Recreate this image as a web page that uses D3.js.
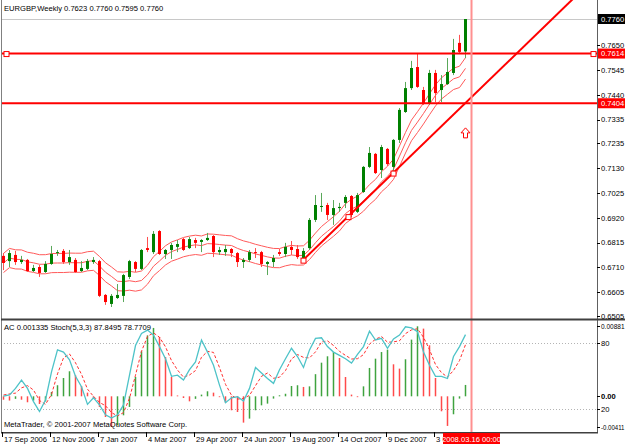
<!DOCTYPE html>
<html><head><meta charset="utf-8">
<script src="https://cdn.jsdelivr.net/npm/d3@7"></script>
<style>
body{margin:0;background:#fff}
svg{display:block}
text{font-family:"Liberation Sans",Arial,sans-serif;font-size:7.6px;fill:#000}
</style>
</head><body>
<svg id="c" width="625" height="445"></svg>
<script>
// ---------- data ----------
const titleText = "EURGBP,Weekly  0.7623 0.7760 0.7595 0.7760";
const subTitle = "AC 0.001335  Stoch(5,3,3) 87.8495 78.7709";
const copyright = "MetaTrader, \u00A9 2001-2007 MetaQuotes Software Corp.";
const startDate = new Date(2006, 8, 17); // first weekly bar
const opens = [0.6759,0.6737,0.6763,0.6733,0.6742,0.6695,0.6712,0.6691,0.6725,0.6771,
0.6780,0.6733,0.6742,0.6695,0.6704,0.6733,0.6737,0.6594,0.6556,0.6581,
0.6590,0.6670,0.6733,0.6704,0.6792,0.6775,0.6864,0.6767,0.6784,0.6797,
0.6830,0.6792,0.6826,0.6818,0.6826,0.6843,0.6775,0.6775,0.6788,0.6771,
0.6733,0.6742,0.6775,0.6775,0.6725,0.6733,0.6775,0.6767,0.6797,0.6788,
0.6750,0.6792,0.6911,0.6966,0.6974,0.6932,0.6961,0.6983,0.7012,0.6945,
0.7029,0.7135,0.7190,0.7122,0.7211,0.7135,0.7249,0.7367,0.7468,0.7557,
0.7460,0.7405,0.7532,0.7460,0.7485,0.7532,0.7659,0.7623];
const highs = [0.6771,0.6784,0.6780,0.6759,0.6746,0.6721,0.6721,0.6737,0.6801,0.6784,
0.6788,0.6784,0.6750,0.6737,0.6746,0.6754,0.6742,0.6598,0.6598,0.6640,
0.6683,0.6742,0.6737,0.6788,0.6839,0.6864,0.6868,0.6788,0.6814,0.6826,
0.6835,0.6839,0.6835,0.6830,0.6856,0.6847,0.6797,0.6805,0.6792,0.6775,
0.6750,0.6784,0.6792,0.6780,0.6737,0.6763,0.6788,0.6814,0.6822,0.6805,
0.6792,0.6919,0.7016,0.7025,0.6983,0.6995,0.6983,0.7016,0.7016,0.7025,
0.7139,0.7219,0.7194,0.7228,0.7215,0.7253,0.7384,0.7494,0.7583,0.7612,
0.7473,0.7545,0.7545,0.7523,0.7595,0.7676,0.7693,0.7760];
const lows = [0.6699,0.6712,0.6721,0.6725,0.6691,0.6691,0.6670,0.6687,0.6721,0.6759,
0.6725,0.6721,0.6687,0.6691,0.6699,0.6725,0.6585,0.6552,0.6543,0.6577,
0.6564,0.6661,0.6691,0.6699,0.6775,0.6767,0.6763,0.6746,0.6746,0.6775,
0.6780,0.6788,0.6792,0.6775,0.6822,0.6754,0.6763,0.6759,0.6754,0.6712,
0.6708,0.6733,0.6750,0.6712,0.6678,0.6712,0.6759,0.6754,0.6763,0.6746,
0.6742,0.6784,0.6902,0.6945,0.6911,0.6890,0.6945,0.6961,0.6923,0.6940,
0.7025,0.7130,0.7105,0.7088,0.7139,0.7109,0.7236,0.7363,0.7460,0.7469,
0.7397,0.7397,0.7409,0.7409,0.7481,0.7523,0.7616,0.7595];
const closes = [0.6729,0.6771,0.6733,0.6742,0.6695,0.6708,0.6687,0.6725,0.6767,0.6775,
0.6733,0.6754,0.6691,0.6708,0.6737,0.6742,0.6590,0.6564,0.6590,0.6594,
0.6678,0.6737,0.6704,0.6784,0.6784,0.6852,0.6767,0.6784,0.6805,0.6809,
0.6784,0.6830,0.6814,0.6826,0.6835,0.6775,0.6784,0.6788,0.6771,0.6733,
0.6742,0.6775,0.6771,0.6725,0.6733,0.6750,0.6767,0.6797,0.6784,0.6754,
0.6780,0.6911,0.6974,0.6970,0.6932,0.6961,0.6966,0.7008,0.6932,0.7016,
0.7135,0.7194,0.7109,0.7219,0.7147,0.7249,0.7376,0.7468,0.7553,0.7473,
0.7401,0.7532,0.7447,0.7485,0.7536,0.7629,0.7621,0.7760];
const acValues = [-0.0004,-0.0005,-0.0003,-0.0004,-0.0007,-0.0005,-0.0009,-0.0006,0.0005,0.0013,
0.00215,0.00294,0.00247,0.00121,0.00043,-0.00027,-0.00125,-0.00243,-0.0036,-0.0034,
-0.00223,-0.00125,0.00227,0.00529,0.00716,0.00803,0.00697,0.00462,0.00227,0.0001,
-0.0002,-0.00059,-0.0003,0.0002,0.00059,0.00043,-0.0001,-0.00074,-0.00164,-0.00184,
-0.00309,-0.00262,-0.00164,-0.00106,-0.00086,-0.00027,0.00012,0.0003,0.00121,0.0013,
0.0011,0.00117,0.0026,0.00395,0.0047,0.0052,0.0045,0.00227,0.0002,-0.0001,
0.00117,0.00333,0.00442,0.0052,0.00548,0.00376,0.00325,0.00435,0.00666,0.00822,
0.00795,0.00599,0.00215,-0.00176,-0.00348,-0.00211,-0.00027,0.001335];
const stochMain = [32,33,39,46.6,39,27,18,28.5,54,74,
72,65,50,40.5,24.5,30.5,24,15,12,15,
24,51,78,89,92,87.5,77,66,50,51,
46.6,56,63,83,72,60,42,26,30.5,31.5,
27.5,39,58,53,48,43.6,56,66,75.5,68,
58,74,84.5,85,77,72,69,66,62,70,
77,91,83,84.5,75.5,84,87.5,95,94,90.5,
72,60,50,50,48,68,77,87.85];
const stochSignal = [33,34,34.7,39.5,41.5,37.5,28,24.5,33.5,52.2,
66.7,70.3,62.3,51.8,38.3,31.8,26.3,23.2,17,14,
17,30,51,72.7,86.3,89.5,85.5,76.8,64.3,55.7,
49.2,51.2,55.2,67.3,72.7,71.7,58,42.7,32.8,29.3,
29.8,32.7,41.5,50,53,48.2,49.2,55.2,65.8,69.8,
67.2,66.7,72.2,81.2,82.2,78,72.7,69,65.7,66,
69.7,79.3,83.7,86.2,81,81.3,82.3,88.8,92.2,93.2,
85.5,74.2,60.7,53.3,49.3,55.3,64.3,78.77];
const priceTicks = [0.7650,0.7545,0.7440,0.7335,0.7235,0.7130,0.7025,0.6920,0.6815,0.6710,0.6605,0.6505];
const priceRange = [0.6505, 0.7760];
const hLinePrices = [0.7614, 0.7404];
const bidPrice = 0.7760;
const trendAnchors = [{i:50, p:0.6741}, {i:65, p:0.7109}];
const arrowMark = {i:77, p:0.7300};
const cursorIndex = 78;
const cursorLabel = "2008.03.16 00:00";
const acRange = [-0.00411, 0.00881];
const acLabels = [0.00881, 0.00, -0.00411];
const stochLevels = [80, 20];
const dateTickEvery = 8;
const envPeriod = 8, envDeviation = 0.006;

// ---------- layout ----------
const svg = d3.select("#c");
const L = 1, R = 597, mainTop = 0, mainBot = 318, subTop = 321.3, subBot = 431.3;
const n = closes.length;
const x = d3.scaleLinear().domain([0, 78]).range([3, 471]);
const y = d3.scaleLinear().domain(priceRange).range([316, 19]);
const yAC = d3.scaleLinear().domain(acRange).range([subBot, subTop]);
const yS = d3.scaleLinear().domain([0, 100]).range([subBot, subTop]);
const dateOf = i => d3.timeDay.offset(startDate, 7 * i);
const fmt = d3.timeFormat("%-d %b %Y");

svg.append("rect").attr("width", 625).attr("height", 445).attr("fill", "#fff");
const defs = svg.append("defs");
defs.append("clipPath").attr("id", "cm").append("rect").attr("x", L + 1).attr("y", mainTop).attr("width", R - L - 1).attr("height", mainBot - mainTop);
defs.append("clipPath").attr("id", "cs").append("rect").attr("x", L + 1).attr("y", 321).attr("width", R - L - 1).attr("height", 111);
const cursorX = x(cursorIndex) + 0.5;
defs.append("clipPath").attr("id", "cd").append("rect").attr("x", 0).attr("y", 433).attr("width", cursorX - 28.5).attr("height", 12);

const gm = svg.append("g").attr("clip-path", "url(#cm)");
const gs = svg.append("g").attr("clip-path", "url(#cs)");

// bid line
gm.append("line").attr("x1", L).attr("x2", R).attr("y1", Math.round(y(bidPrice)) + 0.5).attr("y2", Math.round(y(bidPrice)) + 0.5)
  .attr("stroke", "#c8c8c8").attr("stroke-width", 1);

// envelopes
const idx = d3.range(n);
const ma = idx.map(i => d3.mean(closes.slice(Math.max(0, i - envPeriod + 1), i + 1)));
const line = d3.line().x(i => x(i) + 0.5);
[[ma, 0], [ma, envDeviation], [ma, -envDeviation]].forEach(([arr, d]) => {
  gm.append("path").attr("d", line.y(i => y(arr[i] * (1 + d)))(idx))
    .attr("fill", "none").attr("stroke", "#ff5a5a").attr("stroke-width", 1);
});

// candles
const bull = i => closes[i] >= opens[i];
gm.selectAll(".wick").data(idx).join("line")
  .attr("x1", i => x(i) + 0.5).attr("x2", i => x(i) + 0.5)
  .attr("y1", i => y(highs[i])).attr("y2", i => y(lows[i]))
  .attr("stroke", i => bull(i) ? "#5aa85a" : "#ff5050").attr("stroke-width", 1);
gm.selectAll(".body").data(idx).join("rect")
  .attr("x", i => x(i) - 1).attr("width", 3)
  .attr("y", i => y(Math.max(opens[i], closes[i])))
  .attr("height", i => Math.max(1, Math.abs(y(opens[i]) - y(closes[i]))))
  .attr("fill", i => bull(i) ? "#008000" : "#ff0000");

// horizontal lines
hLinePrices.forEach(p => {
  gm.append("line").attr("x1", L).attr("x2", R).attr("y1", y(p)).attr("y2", y(p))
    .attr("stroke", "#ff0000").attr("stroke-width", 2);
});
[[6, hLinePrices[0]], [593, hLinePrices[0]]].forEach(([px, p]) => {
  gm.append("rect").attr("x", px - 2).attr("y", y(p) - 2).attr("width", 5).attr("height", 5)
    .attr("fill", "#fff").attr("stroke", "#ff0000").attr("stroke-width", 1);
});

// trend line (ray)
const a = trendAnchors[0], b = trendAnchors[1];
const slope = (b.p - a.p) / (b.i - a.i);
const endI = 110;
gm.append("line").attr("x1", x(a.i)).attr("y1", y(a.p)).attr("x2", x(endI)).attr("y2", y(a.p + slope * (endI - a.i)))
  .attr("stroke", "#ff0000").attr("stroke-width", 2);
[a.i, (a.i + b.i) / 2, b.i].forEach(ii => {
  gm.append("rect").attr("x", x(ii) - 2).attr("y", y(a.p + slope * (ii - a.i)) - 2).attr("width", 5).attr("height", 5)
    .attr("fill", "#fff").attr("stroke", "#ff0000").attr("stroke-width", 1);
});

// arrow
{
  const ax = x(arrowMark.i) + 0.5, ay = y(arrowMark.p);
  const pth = `M${ax},${ay} L${ax + 4.5},${ay + 5} L${ax + 2},${ay + 5} L${ax + 2},${ay + 10} L${ax - 2},${ay + 10} L${ax - 2},${ay + 5} L${ax - 4.5},${ay + 5} Z`;
  gm.append("path").attr("d", pth).attr("fill", "#fff").attr("stroke", "#ff0000").attr("stroke-width", 1);
}

// ---------- sub window ----------
stochLevels.forEach(v => {
  gs.append("line").attr("x1", L).attr("x2", R).attr("y1", Math.round(yS(v)) + 0.5).attr("y2", Math.round(yS(v)) + 0.5)
    .attr("stroke", "#b4b4b4").attr("stroke-dasharray", "1,2");
});
gs.selectAll(".ac").data(idx).join("line")
  .attr("x1", i => x(i) + 0.5).attr("x2", i => x(i) + 0.5)
  .attr("y1", yAC(0)).attr("y2", i => yAC(acValues[i]))
  .attr("stroke", i => (i > 0 && acValues[i] > acValues[i - 1]) ? "#3fa33f" : "#ff4a4a")
  .attr("stroke-width", 1.5);
gs.append("path").attr("d", d3.line().x(i => x(i) + 0.5).y(i => yS(stochSignal[i]))(idx))
  .attr("fill", "none").attr("stroke", "#ff3030").attr("stroke-width", 1).attr("stroke-dasharray", "3,2");
gs.append("path").attr("d", d3.line().x(i => x(i) + 0.5).y(i => yS(stochMain[i]))(idx))
  .attr("fill", "none").attr("stroke", "#4ec3c8").attr("stroke-width", 1.3);

// cursor line
svg.append("line").attr("x1", cursorX).attr("x2", cursorX).attr("y1", 0).attr("y2", 432)
  .attr("stroke", "#ff9090").attr("stroke-width", 2);

// ---------- frames ----------
svg.append("line").attr("x1", L + 0.5).attr("x2", L + 0.5).attr("y1", 0).attr("y2", 433).attr("stroke", "#808080");
svg.append("line").attr("x1", R + 0.5).attr("x2", R + 0.5).attr("y1", 0).attr("y2", 433).attr("stroke", "#606060");
svg.append("rect").attr("x", L).attr("y", 318.5).attr("width", 624).attr("height", 2).attr("fill", "#404040");
svg.append("rect").attr("x", L).attr("y", 432).attr("width", R - L + 1).attr("height", 1.5).attr("fill", "#404040");

// price axis
priceTicks.forEach(p => {
  svg.append("line").attr("x1", R).attr("x2", R + 3).attr("y1", Math.round(y(p)) + 0.5).attr("y2", Math.round(y(p)) + 0.5).attr("stroke", "#000");
  svg.append("text").attr("x", R + 4).attr("y", y(p) + 2.8).text(p.toFixed(4));
});
function priceBox(p, bg) {
  const cy = y(p);
  svg.append("rect").attr("x", R + 1).attr("y", cy - 5).attr("width", 28).attr("height", 10).attr("fill", bg);
  svg.append("text").attr("x", R + 4).attr("y", cy + 2.8).style("fill", "#fff").text(p.toFixed(4));
}
priceBox(bidPrice, "#000");
hLinePrices.forEach(p => priceBox(p, "#ff0000"));

// sub axis labels
const subLabelPos = [subTop + 5, yAC(0), subBot - 4];
acLabels.forEach((v, k) => {
  svg.append("line").attr("x1", R).attr("x2", R + 3).attr("y1", Math.round(subLabelPos[k]) + 0.5).attr("y2", Math.round(subLabelPos[k]) + 0.5).attr("stroke", "#000");
  const t = svg.append("text").attr("x", R + 4).attr("y", subLabelPos[k] + 2.8).text(v.toFixed(k === 1 ? 2 : 5));
  if (k === 1) t.style("font-weight", "bold");
  else t.attr("textLength", 23.5).attr("lengthAdjust", "spacingAndGlyphs");
});
stochLevels.forEach(v => {
  svg.append("line").attr("x1", R).attr("x2", R + 3).attr("y1", Math.round(yS(v)) + 0.5).attr("y2", Math.round(yS(v)) + 0.5).attr("stroke", "#000");
  svg.append("text").attr("x", R + 4).attr("y", yS(v) + 2.8).text(v);
});

// date axis
const gd = svg.append("g").attr("clip-path", "url(#cd)");
d3.range(0, n, dateTickEvery).forEach(i => {
  svg.append("line").attr("x1", x(i) - 0.5).attr("x2", x(i) - 0.5).attr("y1", 432).attr("y2", 437).attr("stroke", "#000");
  gd.append("text").attr("x", x(i) + 1).attr("y", 442).text(fmt(dateOf(i)));
});
svg.append("rect").attr("x", cursorX - 28.5).attr("y", 433).attr("width", 57).attr("height", 11).attr("fill", "#ff0000");
svg.append("text").attr("x", cursorX).attr("y", 442).attr("text-anchor", "middle").style("fill", "#fff").text(cursorLabel);

// texts
svg.append("text").attr("x", 4).attr("y", 11).text(titleText);
svg.append("text").attr("x", 4).attr("y", 330).text(subTitle);
svg.append("text").attr("x", 4).attr("y", 427).text(copyright);
</script>
</body></html>
